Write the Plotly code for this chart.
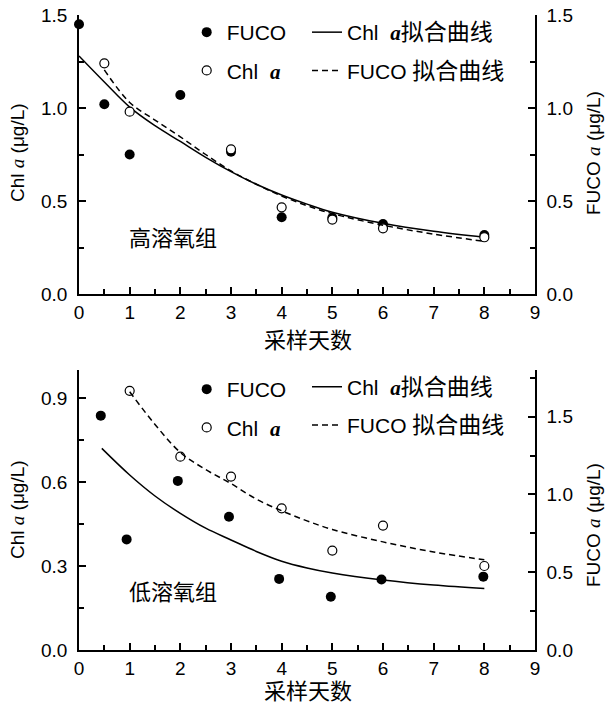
import plotly.graph_objects as go

# ---------------- data ----------------
# top panel: 高溶氧组
top_fuco_x = [0, 0.5, 1, 2, 3, 4, 5, 6, 8]
top_fuco_y = [1.45, 1.02, 0.75, 1.07, 0.765, 0.413, 0.41, 0.376, 0.317]
top_chl_x = [0.5, 1, 3, 4, 5, 6, 8]
top_chl_y = [1.24, 0.98, 0.778, 0.466, 0.40, 0.353, 0.305]
top_chlfit_x = [0, 0.5, 1, 1.5, 2, 2.5, 3, 3.5, 4, 4.5, 5, 6, 7, 8]
top_chlfit_y = [1.28, 1.14, 1.005, 0.905, 0.82, 0.735, 0.658, 0.59, 0.532, 0.483, 0.44, 0.38, 0.337, 0.305]
top_fucofit_x = [0.5, 1, 1.5, 2, 2.5, 3, 3.5, 4, 4.5, 5, 6, 7, 8]
top_fucofit_y = [1.205, 1.03, 0.935, 0.845, 0.75, 0.662, 0.59, 0.527, 0.475, 0.432, 0.37, 0.322, 0.283]

# bottom panel: 低溶氧组
bot_fuco_x = [0.43, 0.94, 1.95, 2.96, 3.95, 4.97, 5.97, 7.98]
bot_fuco_y = [0.837, 0.395, 0.604, 0.476, 0.254, 0.19, 0.252, 0.262]
bot_chl_x = [1, 2, 3, 4, 5, 6, 8]
bot_chl_y = [1.666, 1.243, 1.115, 0.911, 0.639, 0.80, 0.54]
bot_chlfit_x = [0.45, 1, 1.5, 2, 2.5, 3, 3.5, 4, 4.5, 5, 6, 7, 8]
bot_chlfit_y = [0.72, 0.625, 0.55, 0.488, 0.435, 0.393, 0.352, 0.317, 0.293, 0.275, 0.25, 0.232, 0.22]
bot_fucofit_x = [1, 1.5, 2, 2.5, 3, 3.5, 4, 4.5, 5, 6, 7, 8]
bot_fucofit_y = [1.66, 1.45, 1.27, 1.16, 1.07, 0.97, 0.895, 0.83, 0.775, 0.695, 0.63, 0.58]

x_ticks = [0, 1, 2, 3, 4, 5, 6, 7, 8, 9]
panel_labels = ["高溶氧组", "低溶氧组"]
x_title = "采样天数"

# ---------------- styling ----------------
W, H = 605, 709
FONT = "Liberation Sans, Arial, Noto Sans CJK SC, sans-serif"
A_BOLD = '<span style="font-family:Liberation Serif;font-style:italic;font-weight:bold">a</span>'
A_IT = '<span style="font-family:Liberation Serif;font-style:italic">a</span>'
CJK = '<span style="font-size:23px">拟合曲线</span>'

def px_x(p):
    return p / W

def px_y(p):
    return 1 - p / H

xdom = [px_x(79), px_x(535)]
top_dom = [px_y(294), px_y(15)]
bot_dom = [px_y(650), px_y(370)]

fig = go.Figure()

def add_panel(xa, ya_l, ya_r, leg_a, leg_b, fx, fy, cx, cy, sx, sy, dx, dy, tag):
    fig.add_trace(go.Scatter(x=fx, y=fy, mode="markers", name="FUCO",
                             marker=dict(symbol="circle", size=10, color="black"),
                             xaxis=xa, yaxis=ya_l, legend=leg_a, legendgroup=tag + "1",
                             cliponaxis=False))
    fig.add_trace(go.Scatter(x=cx, y=cy, mode="markers", name="Chl\u00a0 " + A_BOLD,
                             marker=dict(symbol="circle", size=9, color="white",
                                         line=dict(color="black", width=1.2)),
                             xaxis=xa, yaxis=ya_r, legend=leg_a, legendgroup=tag + "2",
                             cliponaxis=False))
    fig.add_trace(go.Scatter(x=sx, y=sy, mode="lines", name="Chl\u00a0 " + A_BOLD + CJK,
                             line=dict(color="black", width=1.5, shape="spline"),
                             xaxis=xa, yaxis=ya_l, legend=leg_b, legendgroup=tag + "3"))
    fig.add_trace(go.Scatter(x=dx, y=dy, mode="lines", name="FUCO " + CJK,
                             line=dict(color="black", width=1.5, dash="6px,4px", shape="spline"),
                             xaxis=xa, yaxis=ya_r, legend=leg_b, legendgroup=tag + "4"))

add_panel("x", "y", "y2", "legend", "legend2",
          top_fuco_x, top_fuco_y, top_chl_x, top_chl_y,
          top_chlfit_x, top_chlfit_y, top_fucofit_x, top_fucofit_y, "t")
add_panel("x2", "y3", "y4", "legend3", "legend4",
          bot_fuco_x, bot_fuco_y, bot_chl_x, bot_chl_y,
          bot_chlfit_x, bot_chlfit_y, bot_fucofit_x, bot_fucofit_y, "b")

axis_common = dict(showline=True, linecolor="black", linewidth=1.5, showgrid=False,
                   zeroline=False, ticks="inside", ticklen=7, tickwidth=1.5,
                   tickcolor="black", automargin=False,
                   tickfont=dict(size=19, color="black", family=FONT))

def xaxis_def(anchor):
    return dict(axis_common, domain=xdom, anchor=anchor, range=[0, 9],
                tickmode="array", tickvals=x_ticks, ticktext=[str(v) for v in x_ticks],
                minor=dict(ticks="inside", ticklen=5, tickwidth=1.5, tickcolor="black",
                           dtick=0.5, tick0=0, showgrid=False))

def yaxis_def(dom, rng, dtick, mdt, side="left", overlay=None, anchor="x", fmt=".1f"):
    d = dict(axis_common, domain=dom, range=rng, dtick=dtick, tick0=0, side=side,
             anchor=anchor, tickformat=fmt, ticklabelstandoff=6,
             minor=dict(ticks="inside", ticklen=5, tickwidth=1.5, tickcolor="black",
                        dtick=mdt, tick0=0, showgrid=False))
    if overlay:
        d["overlaying"] = overlay
    return d

legend_common = dict(orientation="v", traceorder="grouped", tracegroupgap=8,
                     xanchor="left", yanchor="top", bgcolor="rgba(0,0,0,0)",
                     borderwidth=0, itemwidth=30,
                     font=dict(size=21, color="black", family=FONT))

annotations = []
def ann(text, x, y, size, angle=0):
    annotations.append(dict(text=text, x=px_x(x), y=px_y(y), xref="paper", yref="paper",
                            showarrow=False, textangle=angle, xanchor="center", yanchor="middle",
                            font=dict(size=size, color="black", family=FONT)))

ann("Chl " + A_IT + " (μg/L)", 17, 153, 19, -90)
ann("FUCO " + A_IT + " (μg/L)", 593, 153, 19, -90)
ann("Chl " + A_IT + " (μg/L)", 17, 510, 19, -90)
ann("FUCO " + A_IT + " (μg/L)", 593, 525, 19, -90)
ann(panel_labels[0], 173, 239, 22)
ann(panel_labels[1], 173, 592, 22)
ann(x_title, 308, 341, 22)
ann(x_title, 308, 691, 22)

fig.update_layout(
    width=W, height=H, margin=dict(l=0, r=0, t=0, b=0, autoexpand=False),
    paper_bgcolor="white", plot_bgcolor="white",
    font=dict(family=FONT, color="black"),
    showlegend=True,
    xaxis=xaxis_def("y"),
    yaxis=yaxis_def(top_dom, [0, 1.5], 0.5, 0.25),
    yaxis2=yaxis_def(top_dom, [0, 1.5], 0.5, 0.25, side="right", overlay="y"),
    xaxis2=xaxis_def("y3"),
    yaxis3=yaxis_def(bot_dom, [0, 1.0], 0.3, 0.15, anchor="x2"),
    yaxis4=yaxis_def(bot_dom, [0, 1.8], 0.5, 0.25, side="right", overlay="y3", anchor="x2"),
    legend=dict(legend_common, x=px_x(186.7), y=px_y(12)),
    legend2=dict(legend_common, x=px_x(307), y=px_y(12)),
    legend3=dict(legend_common, x=px_x(186.7), y=px_y(369)),
    legend4=dict(legend_common, x=px_x(307), y=px_y(366.5)),
    annotations=annotations,
)

fig.write_html("out.html", config={"displayModeBar": False},
               post_script="document.body.style.margin='0';document.body.style.overflow='hidden';")
